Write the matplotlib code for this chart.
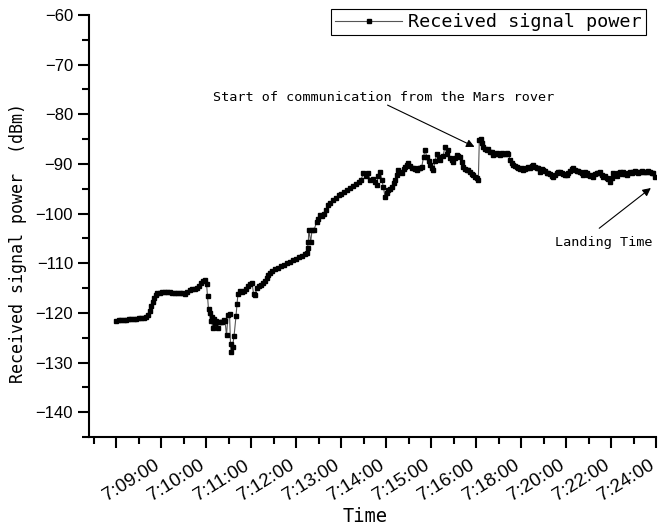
import matplotlib
matplotlib.use("Agg")
import matplotlib.pyplot as plt
import matplotlib.transforms as mtransforms
from matplotlib.ticker import MultipleLocator

# sample index (one unit per ~1 px of the original plot), tick every 45 samples
sample = [0, 2.5, 5, 7.5, 10, 12.5, 15, 17.5, 20, 22.5, 25, 27.5, 30,
          32, 33.5, 35, 36.5, 38, 39.5, 41, 43.5, 46, 48.5, 51, 53.5, 56, 58.5,
          61, 63.5, 66, 68.5, 71, 73.5, 76, 78.5, 81, 83, 85, 87, 89,
          90.5, 91.5, 92.5, 93.5, 94.5, 95.5, 96.5, 97.5, 98.5, 100, 101.5, 103,
          104.5, 106, 107.5, 109, 110.5, 112, 113.5, 114.5, 115, 116.5, 118, 120,
          121, 122, 124, 126, 128, 130, 132, 134, 136, 137.5, 139, 141, 143, 145,
          147, 149, 150.5, 152, 154, 156,
          159, 162, 165, 168, 171, 174, 177, 180, 183, 186, 189, 191,
          191.5, 192.3, 192.8, 194.7, 196, 198, 200.7, 202, 204, 206, 208, 210,
          212.3, 214, 217, 220, 222.5, 225, 228, 231, 234, 237, 240, 243, 245,
          247.3, 250, 252.3, 254, 256.5, 259, 260.7, 262, 264, 265.7, 267.3, 269,
          270.5, 272.3, 274, 275.7, 277.5, 279, 280.5, 282.3, 284, 285.7, 287.5,
          289, 290.5, 292.3, 294, 295.7, 297.5, 299, 300.7, 302.5, 304, 305.7,
          307.5, 309, 310.7, 312.5, 314, 315.5, 317.3, 319, 320.7, 322.5, 324,
          327, 329, 330.7, 332.3, 334, 335.7, 337.3, 339, 340.7, 342.3, 344,
          345.7, 347.3, 349, 350.7, 352.3, 354, 355.7, 357.3, 359, 360.7, 362.3,
          363.3, 364.7, 366, 367.3, 369, 370.7, 372.3, 374, 375.7, 377.3, 379,
          380.7, 382.3, 384, 385.7, 387.3, 389, 390.7, 392.3, 394, 395.7, 397.3,
          399, 400.7, 402.3, 404, 405.7, 407.3, 409, 410.7, 412.3, 414, 415.7,
          417.3, 419, 420.7, 422.3, 424, 425.7, 427.3, 429, 430.7, 432.3, 434,
          435.7, 437.3, 439, 440.7, 442.3, 444, 445.7, 447.3, 449, 450.7, 452.3,
          454, 455.7, 457.3, 459, 460.7, 462.3, 464, 465.7, 467.3, 469, 470.7,
          472.3, 474, 475.7, 477.3, 479, 480.7, 482.3, 484, 485.7, 487.3, 489,
          490.7, 492.3, 494, 495.7, 497.3, 499, 500.7, 502.3, 504, 505.7, 507.3,
          509, 510.7, 512.3, 514, 515.7, 517.3, 519, 520.7, 522.3, 524, 525.7,
          527.3, 529, 530.7, 532.3, 534, 535.7, 537.3, 539]

power = [-121.6, -121.5, -121.5, -121.4, -121.4, -121.3, -121.3, -121.2, -121.2, -121.1, -121.1, -121.0, -120.9,
         -120.4, -119.6, -118.7, -117.8, -117.0, -116.4, -116.0, -115.9, -115.8, -115.8, -115.8, -115.8, -115.9, -115.9,
         -115.9, -116.0, -116.0, -116.1, -115.7, -115.3, -115.2, -115.2, -115.0, -114.6, -114.0, -113.6, -113.3,
         -114.1, -116.6, -119.3, -120.0, -121.6, -120.9, -123.1, -121.3, -122.0, -121.6, -123.1, -121.8,
         -121.9, -121.8, -121.5, -121.7, -124.5, -120.4, -120.2, -126.3, -127.8, -126.8, -124.7, -120.6,
         -118.2, -116.1, -115.5, -115.7, -115.5, -115.2, -114.6, -114.2, -113.9, -116.1, -116.4, -114.9, -114.6, -114.3,
         -113.9, -113.6, -113.0, -112.3, -111.9, -111.5,
         -111.2, -110.9, -110.6, -110.3, -110.0, -109.7, -109.4, -109.1, -108.8, -108.5, -108.2, -107.9,
         -107.0, -105.7, -103.3, -105.7, -103.3, -103.3, -101.6, -101.0, -100.3, -100.4, -100.0, -99.3,
         -98.3, -97.9, -97.3, -96.8, -96.3, -96.0, -95.6, -95.3, -94.9, -94.5, -94.1, -93.7, -93.2,
         -91.9, -92.4, -91.9, -93.2, -93.0, -93.6, -94.3, -92.5, -91.6, -93.2, -94.6, -96.6,
         -95.8, -95.3, -95.0, -94.6, -93.9, -93.2, -92.2, -91.2, -91.6, -91.9, -91.0,
         -90.6, -90.2, -89.9, -90.4, -90.9, -90.8, -91.0, -91.2, -90.9, -90.8, -90.6,
         -88.6, -87.2, -88.5, -89.4, -90.2, -90.8, -91.2, -89.4, -87.9, -88.6, -89.2,
         -88.4, -86.5, -87.9, -87.2, -88.9, -89.2, -89.6, -88.9, -88.2, -88.3, -88.5,
         -89.6, -90.6, -91.0, -91.2, -91.3, -91.6, -92.0, -92.2, -92.6, -92.9, -93.2,
         -85.2, -84.9, -85.7, -86.5, -86.9, -87.2, -87.0, -87.5, -87.6, -88.2, -88.0,
         -87.8, -87.9, -88.1, -87.7, -87.9, -88.0, -87.7, -87.9, -89.2, -89.8, -90.2,
         -90.5, -90.7, -90.9, -91.1, -90.9, -91.2, -91.0, -90.8, -90.6, -90.8, -90.5,
         -90.2, -90.6, -90.8, -90.9, -91.6, -91.0, -91.2, -91.5, -91.9, -91.9, -92.1,
         -92.4, -92.6, -92.2, -91.8, -91.7, -91.6, -91.9, -92.0, -92.3, -92.2, -91.8,
         -91.5, -91.1, -90.9, -91.3, -91.5, -91.4, -91.6, -91.8, -92.2, -91.7, -91.9,
         -92.3, -92.4, -92.2, -92.6, -92.1, -91.8, -91.9, -91.6, -92.2, -92.6, -92.4,
         -92.9, -93.0, -93.6, -92.8, -91.9, -92.2, -92.5, -91.8, -91.6, -92.0, -91.6,
         -92.0, -92.2, -91.9, -91.7, -91.8, -91.6, -91.5, -91.6, -91.8, -91.6, -91.5,
         -91.7, -91.6, -91.6, -91.5, -91.7, -91.8, -91.9, -92.6]

time_labels = ['', '7:09:00', '7:10:00', '7:11:00', '7:12:00', '7:13:00', '7:14:00',
               '7:15:00', '7:16:00', '7:18:00', '7:20:00', '7:22:00', '7:24:00']
tick_pos = [45 * i for i in range(len(time_labels))]

mono = ['DejaVu Sans Mono', 'Noto Sans CJK SC']
sans = ['Liberation Sans', 'DejaVu Sans']

fig = plt.figure(figsize=(6.58, 5.29), dpi=100)
ax = fig.add_axes([0.1353, 0.1739, 0.8617, 0.7977])

ax.plot(sample, power, color='#555555', lw=0.8, marker='s', markersize=3,
        markerfacecolor='black', markeredgecolor='black', label='Received signal power')

ax.set_xlim(-27, 540)
ax.set_ylim(-145, -60)
ax.spines['top'].set_visible(False)
ax.spines['right'].set_visible(False)
for s in ['left', 'bottom']:
    ax.spines[s].set_linewidth(1.5)

ax.yaxis.set_major_locator(MultipleLocator(10))
ax.yaxis.set_minor_locator(MultipleLocator(5))
ax.xaxis.set_minor_locator(MultipleLocator(22.5))
ax.tick_params(which='major', direction='out', length=8, width=1.5)
ax.tick_params(which='minor', direction='out', length=5, width=1.5)
ax.tick_params(axis='x', which='major', pad=5)
ax.tick_params(axis='y', labelsize=12)
for lab in ax.get_yticklabels():
    lab.set_family(sans)

ax.set_xticks(tick_pos)
ax.set_xticklabels(time_labels, rotation=32, ha='right', va='top',
                   family=sans, fontsize=13.5)
# nudge the rotated labels a little right, so they end just past their tick
shift = mtransforms.ScaledTranslation(0.015, -0.02, fig.dpi_scale_trans)
for lab in ax.get_xticklabels():
    lab.set_transform(lab.get_transform() + shift)

ax.set_xlabel('Time', family=mono, fontsize=13.5)
ax.xaxis.set_label_coords(0.487, -0.165)
ax.set_ylabel('Received signal power  (dBm)', family=mono, fontsize=12)
ax.yaxis.set_label_coords(-0.11, 0.46)

# annotations
ax.text(97, -76.7, 'Start of communication from the Mars rover', family=mono,
        fontsize=9.7, va='center', ha='left')
ax.annotate('', xy=(361, -86.8), xytext=(269, -77.9),
            arrowprops=dict(arrowstyle='-|>', color='black', lw=0.8, mutation_scale=12))
ax.text(439, -105.9, 'Landing Time', family=mono, fontsize=9.7, va='center', ha='left')
ax.annotate('', xy=(537, -94.5), xytext=(481, -103.3),
            arrowprops=dict(arrowstyle='-|>', color='black', lw=0.8, mutation_scale=12))

leg = ax.legend(loc='upper right', bbox_to_anchor=(646 / 658, 1 - 9 / 529),
                bbox_transform=fig.transFigure, prop={'family': mono, 'size': 13.3},
                frameon=True, fancybox=False, edgecolor='black', framealpha=1,
                numpoints=1, handlelength=3.6, handletextpad=0.35, borderpad=0.22,
                borderaxespad=0)
leg.get_frame().set_linewidth(0.8)

fig.savefig('out.png', dpi=100)
